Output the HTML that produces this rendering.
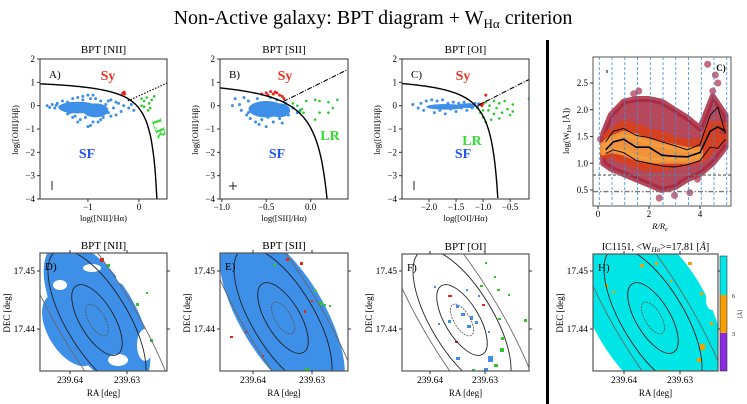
<!DOCTYPE html>
<html><head><meta charset="utf-8">
<style>
html,body{margin:0;padding:0;background:#fff;width:747px;height:404px;overflow:hidden;}
svg{display:block;font-family:"Liberation Serif","DejaVu Serif",serif;overflow:hidden;}
</style></head>
<body>
<svg id="fig" width="747" height="404" viewBox="0 0 747 404" xmlns="http://www.w3.org/2000/svg">
<defs>
<clipPath id="cA"><rect x="40" y="59" width="127" height="140"/></clipPath>
<clipPath id="cB"><rect x="220" y="59" width="128" height="140"/></clipPath>
<clipPath id="cC"><rect x="402" y="59" width="127" height="140"/></clipPath>
<clipPath id="cG"><rect x="593" y="57" width="138" height="149"/></clipPath>
</defs>
<text x="373" y="24" text-anchor="middle" font-size="20">Non-Active galaxy: BPT diagram + W<tspan font-size="13" dy="4">Hα</tspan><tspan dy="-4"> criterion</tspan></text>
<rect x="546" y="40" width="3" height="364" fill="#000"/>
</svg>
<script>
// ---------- data ----------
const blueA = [[-1.8,0],[-1.7,0.05],[-1.65,-0.1],[-1.6,0.1],[-1.55,-0.05],[-1.5,0.2],[-1.45,-0.2],[-1.4,0.15],[-1.35,-0.3],[-1.3,0.3],[-1.25,-0.45],[-1.2,0.35],[-1.15,-0.6],[-1.1,0.4],[-1.05,-0.5],[-1.0,0.45],[-0.95,-0.85],[-0.9,-0.7],[-0.85,0.3],[-0.8,-0.4],[-0.75,0.2],[-0.7,-0.5],[-0.65,0.05],[-0.6,-0.3],[-0.55,0.25],[-0.5,-0.1],[-0.45,-0.4],[-0.4,0.1],[-0.35,-0.25],[-0.3,0],[-0.2,-0.1],[-0.15,0.05],[-1.0,-0.9],[-0.9,0.45],[-1.2,-0.7],[-0.6,0.2],[-0.8,-0.7],[-0.55,-0.45],[-0.1,-0.2],[-1.75,-0.08],[-1.62,0.02],[-0.7,-0.15],[-0.45,0.15],[-1.4,-0.35],[-1.3,-0.5],[-0.75,-0.6],[-1.1,0.25],[-0.95,0.3]];
const coreA = [[-1.2,-0.08,0.38,0.25],[-0.85,-0.2,0.25,0.3]];
const redA = [[-0.3,0.55],[-0.28,0.5],[-0.32,0.52],[-0.29,0.58]];
const greenA = [[0.05,0.3],[0.1,0.2],[0.15,0.35],[0.2,0.1],[0.25,0.25],[0.1,-0.05],[0.22,-0.1],[0.3,0.4],[0.05,0.0],[0.18,-0.2]];
const blueB = [[-0.88,0.0],[-0.85,0.3],[-0.8,0.05],[-0.78,-0.2],[-0.75,0.35],[-0.72,-0.4],[-0.7,0.2],[-0.68,-0.55],[-0.65,-0.1],[-0.62,-0.7],[-0.6,0.3],[-0.58,-0.8],[-0.55,-0.6],[-0.5,-0.9],[-0.48,-0.5],[-0.45,0.35],[-0.42,-0.7],[-0.4,-0.3],[-0.38,0.25],[-0.35,-0.55],[-0.3,-0.2],[-0.28,0.1],[-0.25,-0.4],[-0.2,-0.1],[-0.15,-0.3],[-0.12,-0.2],[-0.32,-0.75],[-0.6,-0.4],[-0.7,-0.3]];
const coreB = [[-0.5,-0.15,0.2,0.35],[-0.35,-0.2,0.12,0.3]];
const redB = [[-0.55,0.5],[-0.5,0.55],[-0.45,0.6],[-0.42,0.5],[-0.38,0.55],[-0.35,0.45],[-0.32,0.4],[-0.3,0.3],[-0.48,0.45],[-0.4,0.58]];
const greenB = [[-0.2,0.1],[-0.15,0],[-0.1,-0.15],[-0.05,0.2],[0.05,0.25],[0.1,0.2],[0.2,0.15],[0.3,0.25],[0.1,-0.3],[0.2,-0.3],[0.05,-0.6],[-0.12,-0.25],[0.25,-0.1],[-0.08,-0.3]];
const blueC = [[-2.3,0.05],[-2.2,-0.1],[-2.15,0.1],[-2.1,-0.2],[-2.05,0.2],[-2.0,-0.05],[-1.95,0.25],[-1.9,-0.3],[-1.85,0.2],[-1.8,-0.2],[-1.75,0.25],[-1.7,-0.35],[-1.65,0.1],[-1.6,-0.15],[-1.55,0.15],[-1.5,-0.25],[-1.45,0.1],[-1.4,-0.1],[-1.35,0.15],[-1.3,-0.2],[-1.25,0.05],[-1.2,-0.1],[-1.15,0.1],[-1.1,-0.05],[-1.08,0.08]];
const coreC = [[-1.7,-0.05,0.35,0.12],[-1.3,0.0,0.18,0.1]];
const redC = [[-1.05,0.05],[-1.0,0.1],[-0.95,0.45],[-1.02,0.0]];
const greenC = [[-1.1,-0.1],[-1.05,-0.3],[-1.0,-0.5],[-0.95,0.15],[-0.9,-0.2],[-0.85,-0.6],[-0.8,0.2],[-0.8,-0.35],[-0.75,-0.1],[-0.7,0.1],[-0.7,-0.55],[-0.65,-0.3],[-0.6,0.2],[-0.55,-0.15],[-0.5,-0.4],[-0.45,0.05],[-0.45,-0.25],[-0.15,0.3],[-0.95,-0.7],[-1.0,-0.2],[-0.88,0.0]];
// Panel C (W_Ha profile)
const gR = [0.2,0.5,1.0,1.5,2.0,2.5,3.0,3.5,4.0,4.5,5.0];
const gEnvLo = [1.0,0.9,0.8,0.7,0.6,0.5,0.55,0.7,0.8,1.0,1.3];
const gEnvHi = [1.55,1.9,2.15,2.2,2.2,2.15,2.0,1.85,1.65,2.25,1.9];
const gMidLo = [1.15,1.15,1.05,0.95,0.9,0.9,0.95,1.0,1.05,1.25,1.45];
const gMidHi = [1.45,1.6,1.75,1.7,1.6,1.55,1.45,1.4,1.4,1.75,1.7];
const gCoreLo = [1.2,1.25,1.2,1.1,1.05,1.05,1.05,1.05,1.1];
const gCoreHi = [1.35,1.45,1.55,1.5,1.4,1.35,1.3,1.25,1.25];
const gOut = [[4.3,2.85],[4.6,2.65],[4.7,2.5],[4.5,2.35],[1.4,2.3],[1.6,2.35],[3.0,0.4],[2.4,0.35],[3.6,0.45],[0.1,1.45],[4.9,1.6],[3.9,0.7]];
const medR = [0.3,0.6,1.0,1.5,2.0,2.5,3.0,3.5,4.0,4.4,4.7,5.0];
const medP50 = [1.25,1.4,1.45,1.3,1.3,1.15,1.13,1.12,1.2,1.6,1.68,1.6];
const medP84 = [1.4,1.6,1.65,1.52,1.48,1.4,1.33,1.25,1.35,1.9,2.05,1.55];
const medP16 = [1.18,1.25,1.2,1.05,1.0,0.95,0.93,0.97,1.05,1.3,1.28,1.45];
const binEdges = [0.05,0.55,1.05,1.55,2.05,2.55,3.05,3.55,4.05,4.55,5.05];
const hLines = [0.78,0.47];
const gYTicks = [2.5,2.0,1.5,1.0,0.5];
const gXTicks = [0,2,4];
const bptYTicks = [2,1,0,-1,-2,-3,-4];

// ---------- helpers ----------
const NS='http://www.w3.org/2000/svg';
const svg=document.getElementById('fig');
function mk(tag,at,par){const e=document.createElementNS(NS,tag);for(const k in at)e.setAttribute(k,at[k]);(par||svg).appendChild(e);return e;}
function txt(s,at,par){const e=mk('text',at,par);e.textContent=s;return e;}
function fmt(v){return (v<0?'\u2212':'')+Math.abs(v);}

// ---------- BPT panels ----------
const bpts=[
 {id:'nii',x0:40,x1:167,xmin:-1.94,xmax:0.55,xt:[-1,0],xtl:['\u22121','0'],title:'BPT [NII]',xl:'log([NII]/H\u03b1)',letter:'A)',
  curve:x=>0.61/(x-0.47)+1.19,cmax:0.352,line:x=>0.2+ (x+0.22)*1.0,ls:-0.22,le:0.55,dash:'1.5,1.5',
  blue:blueA,core:coreA,red:redA,green:greenA,sy:[108,80],sf:[87,158],lr:[155,130,70],err:'v',clip:'cA'},
 {id:'sii',x0:220,x1:348,xmin:-1.02,xmax:0.42,xt:[-1,-0.5,0],xtl:['\u22121.0','\u22120.5','0.0'],title:'BPT [SII]',xl:'log([SII]/H\u03b1)',letter:'B)',
  curve:x=>0.72/(x-0.32)+1.30,cmax:0.185,line:x=>1.89*x+0.76,ls:-0.31,le:0.42,dash:'5,1.5,1,1.5',
  blue:blueB,core:coreB,red:redB,green:greenB,sy:[285,80],sf:[277,158],lr:[330,140,0],err:'+',clip:'cB'},
 {id:'oi',x0:402,x1:529,xmin:-2.5,xmax:-0.15,xt:[-2,-1.5,-1,-0.5],xtl:['\u22122.0','\u22121.5','\u22121.0','\u22120.5'],title:'BPT [OI]',xl:'log([OI]/H\u03b1)',letter:'C)',
  curve:x=>0.73/(x+0.59)+1.33,cmax:-0.728,line:x=>1.18*x+1.30,ls:-1.1,le:-0.15,dash:'5,1.5,1,1.5',
  blue:blueC,core:coreC,red:redC,green:greenC,sy:[463,80],sf:[463,158],lr:[472,145,0],err:'v',clip:'cC'}
];
const Y0=59,Y1=199;
bpts.forEach(p=>{
 const sx=v=>p.x0+(v-p.xmin)/(p.xmax-p.xmin)*(p.x1-p.x0);
 const sy=v=>Y0+(2-v)/6*(Y1-Y0);
 const g=mk('g',{});
 
 
 const t=txt(p.title,{x:(p.x0+p.x1)/2,y:53,'text-anchor':'middle','font-size':11},g);
 
 
 const pts=mk('g',{'clip-path':'url(#'+p.clip+')'},g);
 
 
 p.core.forEach(c=>{const e=mk('ellipse',{cx:sx(c[0]),cy:sy(c[1]),rx:c[2]/(p.xmax-p.xmin)*(p.x1-p.x0),ry:c[3]/6*(Y1-Y0),fill:'#3d8fe8'},pts);
  });
 p.blue.forEach(d=>{const c=mk('circle',{cx:sx(d[0]),cy:sy(d[1]),r:1.5,fill:'#3d8fe8'},pts);
  });
 p.green.forEach(d=>{const c=mk('circle',{cx:sx(d[0]),cy:sy(d[1]),r:1.3,fill:'#2ec82e'},pts);
  });
 p.red.forEach(d=>{const c=mk('circle',{cx:sx(d[0]),cy:sy(d[1]),r:1.5,fill:'#e8261a'},pts);
  });
 let dstr='';const n=120;
 for(let i=0;i<=n;i++){const x=p.xmin+(p.cmax-p.xmin)*i/n;const y=p.curve(x);dstr+=(i?'L':'M')+sx(x).toFixed(1)+','+sy(Math.max(y,-4)).toFixed(1);}
 const cu=mk('path',{d:dstr,fill:'none',stroke:'#000','stroke-width':1.4},pts);
 
 const ln=mk('line',{x1:sx(p.ls),y1:sy(p.line(p.ls)),x2:sx(p.le),y2:sy(p.line(p.le)),stroke:'#000','stroke-width':1.1,'stroke-dasharray':p.dash},pts);
 
 const fr=mk('rect',{x:p.x0,y:Y0,width:p.x1-p.x0,height:Y1-Y0,fill:'none',stroke:'#333','stroke-width':1},g);
 
 bptYTicks.forEach(v=>{mk('line',{x1:p.x0-3,x2:p.x0,y1:sy(v),y2:sy(v),stroke:'#333'},g);
  const l=txt(fmt(v),{x:p.x0-5,y:sy(v)+3,'text-anchor':'end','font-size':9},g);
  });
 p.xt.forEach((v,i)=>{mk('line',{x1:sx(v),x2:sx(v),y1:Y1,y2:Y1+3,stroke:'#333'},g);
  const l=txt(p.xtl[i],{x:sx(v),y:Y1+11,'text-anchor':'middle','font-size':9},g);
  });
 const xl=txt(p.xl,{x:(p.x0+p.x1)/2,y:Y1+22,'text-anchor':'middle','font-size':8.5},g);
 
 const yl=txt('log([OIII]/H\u03b2)',{x:0,y:0,'text-anchor':'middle','font-size':8.5,transform:'translate('+(p.x0-22)+',130) rotate(-90)'},g);
 
 const le=txt(p.letter,{x:p.x0+9,y:78,'font-size':11},g);
 
 const s1=txt('Sy',{x:p.sy[0],y:p.sy[1],'text-anchor':'middle','font-size':14,'font-weight':'bold',fill:'#ee3322'},g);
 
 const s2=txt('SF',{x:p.sf[0],y:p.sf[1],'text-anchor':'middle','font-size':14,'font-weight':'bold',fill:'#2255ee'},g);
 
 const s3=txt('LR',{x:0,y:0,'text-anchor':'middle','font-size':14,'font-weight':'bold',fill:'#33dd33',transform:'translate('+p.lr[0]+','+p.lr[1]+') rotate('+p.lr[2]+')'},g);
 
 const eb=mk('path',{d:p.err==='+'?'M'+(p.x0+9)+',186h8M'+(p.x0+13)+',182v8':'M'+(p.x0+12)+',181v9',stroke:'#223','stroke-width':1},g);
 
});

// ---------- W_Ha profile panel ----------
(function(){
 const gx=v=>598+25.5*v, gy=v=>190-53.5*(v-0.5);
 const g=mk('g',{});
 
 
 const inner=mk('g',{'clip-path':'url(#cG)'},g);
 function band(lo,hi,col,op,name,n){
  let d='';for(let i=0;i<n;i++)d+=(i?'L':'M')+gx(gR[i])+','+gy(hi[i]);
  for(let i=n-1;i>=0;i--)d+='L'+gx(gR[i])+','+gy(lo[i]);
  const e=mk('path',{d:d+'Z',fill:col,'fill-opacity':op,stroke:col,'stroke-width':6,'stroke-linejoin':'round','stroke-opacity':op},inner);
  }
 band(gEnvLo,gEnvHi,'#a8283e',0.85,'scatter-envelope',gR.length);
 band(gMidLo,gMidHi,'#d8401c',0.9,'scatter-mid-density',gR.length);
 band(gCoreLo,gCoreHi,'#f5a040',0.85,'scatter-high-density',gCoreLo.length);
 gOut.forEach(d=>{const c=mk('circle',{cx:gx(d[0]),cy:gy(d[1]),r:3.5,fill:'#a8304a','fill-opacity':0.7},inner);
  });
 binEdges.forEach(v=>{const l=mk('line',{x1:gx(v),x2:gx(v),y1:57,y2:206,stroke:'#3a8ee6','stroke-width':0.8,'stroke-dasharray':'3,2'},inner);
  });
 hLines.forEach((v,i)=>{const l=mk('line',{x1:593,x2:731,y1:gy(v),y2:gy(v),stroke:'#777','stroke-width':1.4,'stroke-dasharray':i?'5,2,1.5,2':'3,2'},inner);
  });
 [[medP84,0.9,'p84-line'],[medP16,0.9,'p16-line'],[medP50,1.6,'median-line']].forEach(s=>{
  let d='';medR.forEach((r,i)=>d+=(i?'L':'M')+gx(r)+','+gy(s[0][i]));
  const e=mk('path',{d:d,fill:'none',stroke:'#000','stroke-width':s[1]},inner);
  });
 const fr=mk('rect',{x:593,y:57,width:138,height:149,fill:'none',stroke:'#555','stroke-width':1},g);
 
 gYTicks.forEach(v=>{mk('line',{x1:590,x2:593,y1:gy(v),y2:gy(v),stroke:'#333'},g);
  const l=txt(v.toFixed(1),{x:588,y:gy(v)+3,'text-anchor':'end','font-size':9},g);
  });
 gXTicks.forEach(v=>{mk('line',{x1:gx(v),x2:gx(v),y1:206,y2:209,stroke:'#333'},g);
  const l=txt(String(v),{x:gx(v),y:217,'text-anchor':'middle','font-size':9},g);
  });
 const xl=txt('',{x:660,y:229,'text-anchor':'middle','font-size':8.5,'font-style':'italic'},g);
 xl.innerHTML='R/R<tspan font-size="6" dy="2">e</tspan>';
 
 const yl=txt('',{x:0,y:0,'text-anchor':'middle','font-size':8.5,transform:'translate(569,131) rotate(-90)'},g);
 yl.innerHTML='log(W<tspan font-size="6" dy="2">Hα</tspan><tspan dy="-2"> [Å])</tspan>';
 
 const le=txt('C)',{x:721,y:71,'font-size':9,'font-weight':'bold','text-anchor':'middle'},g);
 
 mk('line',{x1:607,x2:607,y1:70,y2:73,stroke:'#000'},g);
})();

// ---------- maps ----------
const ANG=59;
const maps=[
 {id:'nii',x0:40,x1:167,y0:253,y1:371,title:'BPT [NII]',letter:'D)',cx:97,cy:320,ra:[70,127],dec:[271,329],
  fill:'#3d8fe8',blob:[[97,315,82,38],[70,330,40,22]],holes:[[128,278,12,7],[145,345,8,16],[60,285,7,5],[118,360,10,6],[92,268,9,4]],
  red:[[100,258,4,4]],green:[[107,264,3,3],[136,303,3,3],[150,339,3,3],[146,292,2,2]],orange:[]},
 {id:'sii',x0:220,x1:348,y0:253,y1:371,title:'BPT [SII]',letter:'E)',cx:283,cy:318,ra:[253,312],dec:[271,329],
  fill:'#3d8fe8',blob:[[282,315,100,42]],holes:[[328,278,14,6]],
  red:[[300,262,3,3],[286,258,3,3],[311,300,2,2],[304,310,2,3],[230,336,3,2],[245,331,2,2],[262,355,2,2]],
  green:[[286,258,4,3],[319,302,4,3],[314,290,3,2],[324,304,2,2],[329,305,2,2],[273,264,3,2],[305,368,4,3]],orange:[]},
 {id:'oi',x0:402,x1:529,y0:254,y1:371,title:'BPT [OI]',letter:'F)',cx:462,cy:320,ra:[430,485],dec:[271,329],
  fill:'none',blob:[],holes:[],
  red:[[448,295,4,2],[455,341,3,2],[482,304,3,2]],
  green:[[480,285,3,2],[497,289,3,2],[498,318,3,2],[501,337,3,3],[500,348,4,4],[494,364,4,3],[524,319,3,3],[508,294,2,2],[485,262,2,2],[494,276,2,2],[472,369,3,3]],
  blue:[[456,305,3,3],[461,313,4,3],[470,316,3,4],[467,325,4,3],[475,321,3,3],[488,356,5,6],[484,368,4,3],[456,357,4,3],[448,320,3,3],[478,295,2,2],[434,286,2,2],[466,289,2,2],[488,331,2,2],[438,323,2,2]],orange:[]},
 {id:'wha',x0:593,x1:718,y0:254,y1:371,title:'IC1151, <W',letter:'H)',cx:653,cy:318,ra:[624,680],dec:[271,329],
  fill:'#00e6e6',blob:[[650,312,108,57]],holes:[[708,268,12,10],[712,300,6,10]],
  red:[],green:[],
  orange:[[640,264,4,3],[655,262,3,3],[688,262,4,3],[710,322,3,3],[700,292,3,3],[700,344,5,6],[697,358,4,4],[660,370,6,3],[605,284,3,3],[612,291,3,2],[670,280,2,2]]}
];
maps.forEach(m=>{
 const g=mk('g',{});
 
 
 const t=txt('',{x:(m.x0+m.x1)/2,y:m.y0-4,'text-anchor':'middle','font-size':m.id==='wha'?10:11},g);
 if(m.id==='wha'){t.innerHTML='IC1151, &lt;W<tspan font-size="7" dy="2" font-style="italic">H\u03b1</tspan><tspan dy="-2">&gt;=17.81 [</tspan><tspan font-style="italic">Å</tspan>]';}
 else t.textContent=m.title;
 
 // nested svg viewport clips the contents
 const vp=mk('svg',{x:m.x0,y:m.y0,width:m.x1-m.x0,height:m.y1-m.y0,viewBox:m.x0+' '+m.y0+' '+(m.x1-m.x0)+' '+(m.y1-m.y0),overflow:'hidden'},g);
 
 
 m.blob.forEach(b=>{const e=mk('ellipse',{cx:b[0],cy:b[1],rx:b[2],ry:b[3],fill:m.fill,transform:'rotate('+ANG+' '+b[0]+' '+b[1]+')'},vp);
  });
 m.holes.forEach(b=>{const e=mk('ellipse',{cx:b[0],cy:b[1],rx:b[2],ry:b[3],fill:'#fff'},vp);
  });
 (m.blue||[]).forEach(b=>{const e=mk('rect',{x:b[0],y:b[1],width:b[2],height:b[3],fill:'#3d8fe8'},vp);
  });
 m.green.forEach(b=>{const e=mk('rect',{x:b[0],y:b[1],width:b[2],height:b[3],fill:'#2ec82e'},vp);
  });
 m.red.forEach(b=>{const e=mk('rect',{x:b[0],y:b[1],width:b[2],height:b[3],fill:'#e8261a'},vp);
  });
 m.orange.forEach(b=>{const e=mk('rect',{x:b[0],y:b[1],width:b[2],height:b[3],fill:'#f5a000'},vp);
  });
 [[18,8,'#555',0.8,'2,1'],[40,17,'#222',0.9,''],[80,31,'#222',0.9,''],[150,38,'#666',0.9,'']].forEach(c=>{
  const e=mk('ellipse',{cx:m.cx,cy:m.cy,rx:c[0],ry:c[1],fill:'none',stroke:c[2],'stroke-width':c[3],'stroke-dasharray':c[4],transform:'rotate('+ANG+' '+m.cx+' '+m.cy+')'},vp);
  });
 const fr=mk('rect',{x:m.x0,y:m.y0,width:m.x1-m.x0,height:m.y1-m.y0,fill:'none',stroke:'#555','stroke-width':1.2},g);
 
 ['239.64','239.63'].forEach((s,i)=>{mk('line',{x1:m.ra[i],x2:m.ra[i],y1:m.y1,y2:m.y1+3,stroke:'#333'},g);
  mk('line',{x1:m.ra[i],x2:m.ra[i],y1:m.y0-3,y2:m.y0,stroke:'#333'},g);
  const l=txt(s,{x:m.ra[i],y:m.y1+12,'text-anchor':'middle','font-size':9.5},g);
  });
 ['17.45','17.44'].forEach((s,i)=>{mk('line',{x1:m.x0-3,x2:m.x0,y1:m.dec[i],y2:m.dec[i],stroke:'#333'},g);
  mk('line',{x1:m.x1,x2:m.x1+3,y1:m.dec[i],y2:m.dec[i],stroke:'#333'},g);
  const l=txt(s,{x:m.x0-5,y:m.dec[i]+3,'text-anchor':'end','font-size':9.5},g);
  });
 const xl=txt('RA [deg]',{x:(m.x0+m.x1)/2,y:m.y1+25,'text-anchor':'middle','font-size':9},g);
 
 const yl=txt('DEC [deg]',{x:0,y:0,'text-anchor':'middle','font-size':9,transform:'translate('+(m.x0-30)+',313) rotate(-90)'},g);
 
 const le=txt(m.letter,{x:m.x0+5,y:m.y0+17,'font-size':11},g);
 
});
// colorbar
(function(){
 const g=mk('g',{});
 
 
 [['#00e6e6',256,295],['#f5a000',295,333],['#8a2be2',333,371]].forEach(s=>{
  const r=mk('rect',{x:720,y:s[1],width:7,height:s[2]-s[1],fill:s[0]},g);
  });
 mk('rect',{x:720,y:256,width:7,height:115,fill:'none',stroke:'#333','stroke-width':0.6},g);
 [['6',296],['3',334]].forEach(s=>{const l=txt(s[0],{x:732,y:s[1]+2,'font-size':6},g);
  });
 const l=txt('[Å]',{x:0,y:0,'font-size':6,'text-anchor':'middle',transform:'translate(742,314) rotate(-90)'},g);
 
})();
</script>
</body></html>
